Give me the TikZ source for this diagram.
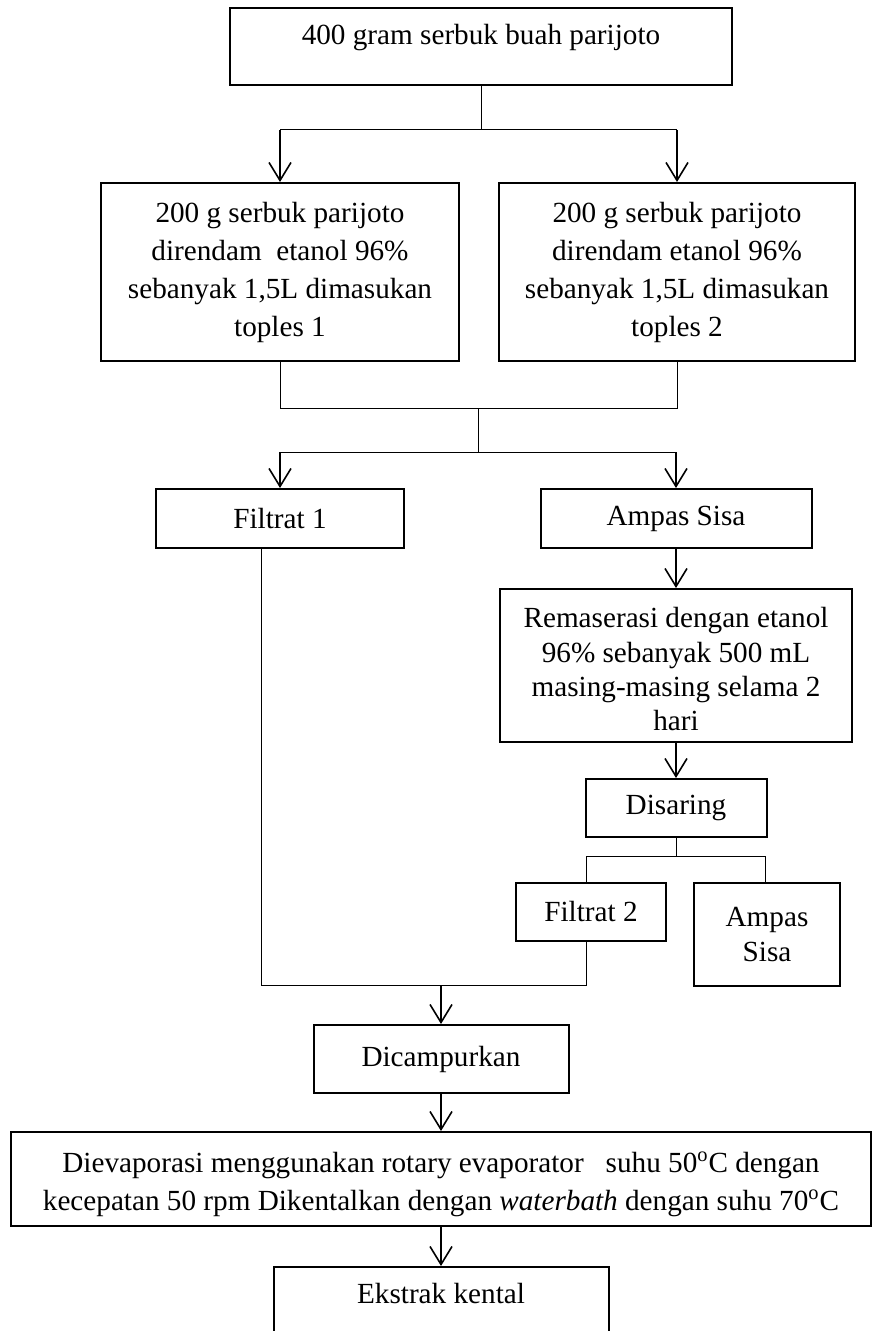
\documentclass[tikz,border=0pt]{standalone}
\usepackage{fontspec}
\setmainfont{Liberation Serif}
\usetikzlibrary{positioning, arrows.meta}

\newcommand{\tarik}[1]{\rule{0pt}{#1}}

\begin{document}
\begin{tikzpicture}[x=0.5pt, y=-0.5pt,
    kotak/.style={draw, line width=1pt, align=center, inner sep=2pt, font=\fontsize{14.6pt}{19pt}\selectfont},
    naik/.style={text depth=12.5pt},
    rapat/.style={font=\fontsize{14.6pt}{17.2pt}\selectfont},
    garis/.style={line width=0.5pt},
    panah/.style={-{Straight Barb[length=9pt, width=11pt, line width=0.8pt]}, line width=0.8pt}]
    \useasboundingbox (0,0) rectangle (872,1331);
    \node[kotak, naik, minimum width=251pt, minimum height=38.5pt] (awal) at (481,46.5) {400 gram serbuk buah parijoto};
    \node[kotak, minimum width=179pt, minimum height=89pt] (toples1) at (280,272) {200 g serbuk parijoto\\direndam\ \ etanol 96\%\\sebanyak 1,5L dimasukan\\toples 1};
    \node[kotak, minimum width=178pt, minimum height=89pt] (toples2) at (677,272) {200 g serbuk parijoto\\direndam etanol 96\%\\sebanyak 1,5L dimasukan\\toples 2};
    \node[kotak, minimum width=124pt, minimum height=29.5pt] (filtrat1) at (280,518.5) {Filtrat 1};
    \node[kotak, minimum width=135.5pt, minimum height=29.5pt] (ampas1) at (676,518.5) {Ampas Sisa};
    \node[kotak, rapat, minimum width=176pt, minimum height=76.5pt] (remaserasi) at (676,665.5) {\tarik{14pt}Remaserasi dengan etanol\\96\% sebanyak 500 mL\\masing-masing selama 2\\hari};
    \node[kotak, minimum width=90.5pt, minimum height=29pt] (disaring) at (676,808) {Disaring};
    \node[kotak, minimum width=75pt, minimum height=29pt] (filtrat2) at (591,912) {Filtrat 2};
    \node[kotak, rapat, minimum width=73pt, minimum height=51.5pt] (ampas2) at (767,934.5) {Ampas\\Sisa};
    \node[kotak, minimum width=127.5pt, minimum height=34pt] (campur) at (441,1059) {Dicampurkan};
    \node[kotak, minimum width=430pt, minimum height=47pt] (evaporasi) at (441,1179) {\tarik{15.5pt}Dievaporasi menggunakan rotary evaporator \ \ suhu 50\textsuperscript{o}C dengan\\kecepatan 50 rpm Dikentalkan dengan \textit{waterbath} dengan suhu 70\textsuperscript{o}C};
    \node[kotak, naik, minimum width=167.5pt, minimum height=38.5pt] (ekstrak) at (441,1305.5) {Ekstrak kental};

    \coordinate (cab1) at (481,130);
    \coordinate (gab1) at (478,409);
    \coordinate (cab2) at (478,452);
    \coordinate (cab3) at (676,856);
    \coordinate (cab3kiri) at (586,856);
    \coordinate (cab3kanan) at (765,856);
    \coordinate (gab2kiri) at (261,985);
    \coordinate (gab2kanan) at (586,985);

    \draw[garis] (awal.south) -- (cab1);
    \draw[garis] (toples1.north |- cab1) -- (toples2.north |- cab1);
    \draw[panah] (toples1.north |- cab1) -- (toples1.north);
    \draw[panah] (toples2.north |- cab1) -- (toples2.north);

    \draw[garis] (toples1.south) -- (toples1.south |- gab1) -- (toples2.south |- gab1) -- (toples2.south);
    \draw[garis] (gab1) -- (cab2);
    \draw[garis] (filtrat1.north |- cab2) -- (ampas1.north |- cab2);
    \draw[panah] (filtrat1.north |- cab2) -- (filtrat1.north);
    \draw[panah] (ampas1.north |- cab2) -- (ampas1.north);

    \draw[panah] (ampas1.south) -- (remaserasi.north);
    \draw[panah] (remaserasi.south) -- (disaring.north);
    \draw[garis] (disaring.south) -- (cab3);
    \draw[garis] (cab3kiri |- filtrat2.north) -- (cab3kiri) -- (cab3kanan) -- (cab3kanan |- ampas2.north);

    \draw[garis] (gab2kiri |- filtrat1.south) -- (gab2kiri) -- (gab2kanan) -- (gab2kanan |- filtrat2.south);
    \draw[panah] (campur.north |- gab2kiri) -- (campur.north);
    \draw[panah] (campur.south) -- (evaporasi.north);
    \draw[panah] (evaporasi.south) -- (ekstrak.north);
\end{tikzpicture}
\end{document}
